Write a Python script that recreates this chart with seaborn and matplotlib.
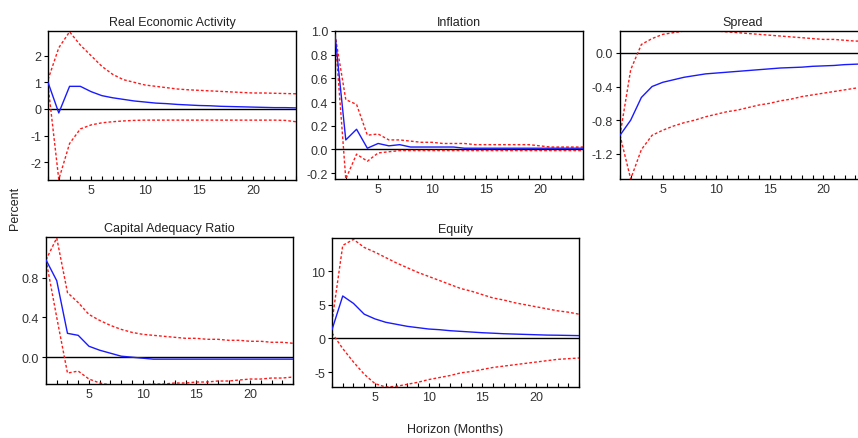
import numpy as np
import pandas as pd
import matplotlib
matplotlib.use("Agg")
import matplotlib.pyplot as plt
import seaborn as sns
from matplotlib.ticker import MultipleLocator, FixedLocator

horizon = list(range(1, 25))

rea_mid = [1.0, -0.15, 0.85, 0.85, 0.65, 0.5, 0.42, 0.36, 0.3, 0.26, 0.22, 0.2,
           0.17, 0.15, 0.13, 0.12, 0.1, 0.09, 0.08, 0.07, 0.06, 0.05, 0.05, 0.04]
rea_hi = [1.1, 2.3, 2.9, 2.4, 2.0, 1.6, 1.3, 1.1, 1.0, 0.9, 0.85, 0.8,
          0.75, 0.72, 0.7, 0.68, 0.66, 0.64, 0.62, 0.6, 0.6, 0.59, 0.58, 0.57]
rea_lo = [0.9, -2.65, -1.3, -0.75, -0.6, -0.52, -0.48, -0.45, -0.43, -0.42, -0.42, -0.42,
          -0.42, -0.42, -0.42, -0.42, -0.42, -0.42, -0.42, -0.42, -0.42, -0.42, -0.43, -0.48]

inf_mid = [0.97, 0.08, 0.17, 0.01, 0.05, 0.03, 0.04, 0.02, 0.02, 0.02, 0.02, 0.02,
           0.01, 0.01, 0.01, 0.01, 0.01, 0.01, 0.01, 0.01, 0.01, 0.01, 0.01, 0.01]
inf_hi = [0.97, 0.42, 0.38, 0.12, 0.13, 0.08, 0.08, 0.07, 0.06, 0.06, 0.05, 0.05,
          0.05, 0.04, 0.04, 0.04, 0.04, 0.04, 0.04, 0.03, 0.02, 0.02, 0.02, 0.02]
inf_lo = [0.97, -0.25, -0.04, -0.1, -0.03, -0.02, -0.01, -0.01, -0.01, -0.01, -0.01, -0.01,
          -0.01, -0.01, -0.01, -0.01, -0.01, -0.01, -0.01, -0.01, -0.01, -0.01, -0.01, -0.01]

spr_mid = [-0.98, -0.8, -0.53, -0.4, -0.35, -0.32, -0.29, -0.27, -0.25, -0.24, -0.23, -0.22,
           -0.21, -0.2, -0.19, -0.18, -0.175, -0.17, -0.16, -0.155, -0.15, -0.14, -0.135, -0.13]
spr_hi = [-0.98, -0.2, 0.1, 0.17, 0.22, 0.24, 0.26, 0.26, 0.26, 0.26, 0.25, 0.24,
          0.23, 0.22, 0.21, 0.2, 0.19, 0.18, 0.17, 0.16, 0.16, 0.15, 0.14, 0.14]
spr_lo = [-0.98, -1.5, -1.15, -0.98, -0.92, -0.87, -0.83, -0.8, -0.76, -0.73, -0.7, -0.68,
          -0.65, -0.62, -0.6, -0.57, -0.55, -0.52, -0.5, -0.48, -0.46, -0.44, -0.42, -0.4]

car_mid = [0.98, 0.77, 0.24, 0.22, 0.11, 0.07, 0.04, 0.01, 0.0, -0.01, -0.02, -0.02,
           -0.02, -0.02, -0.02, -0.02, -0.02, -0.02, -0.02, -0.02, -0.02, -0.02, -0.02, -0.02]
car_hi = [0.98, 1.2, 0.65, 0.55, 0.43, 0.37, 0.32, 0.28, 0.25, 0.23, 0.22, 0.21,
          0.2, 0.19, 0.19, 0.18, 0.18, 0.17, 0.17, 0.16, 0.16, 0.15, 0.15, 0.14]
car_lo = [0.98, 0.4, -0.16, -0.14, -0.22, -0.26, -0.28, -0.28, -0.28, -0.28, -0.27, -0.27,
          -0.26, -0.26, -0.25, -0.25, -0.24, -0.24, -0.23, -0.22, -0.22, -0.21, -0.21, -0.2]

eq_mid = [1.3, 6.3, 5.2, 3.6, 2.9, 2.4, 2.1, 1.8, 1.6, 1.4, 1.3, 1.15,
          1.05, 0.95, 0.85, 0.78, 0.7, 0.65, 0.6, 0.55, 0.5, 0.48, 0.45, 0.42]
eq_hi = [2.5, 13.8, 14.7, 13.5, 12.8, 12.0, 11.2, 10.5, 9.8, 9.2, 8.6, 8.0,
         7.4, 7.0, 6.5, 6.0, 5.7, 5.3, 5.0, 4.7, 4.4, 4.1, 3.9, 3.6]
eq_lo = [0.8, -1.5, -3.5, -5.3, -6.7, -7.2, -7.1, -6.8, -6.5, -6.1, -5.8, -5.5,
         -5.1, -4.9, -4.6, -4.3, -4.1, -3.9, -3.7, -3.5, -3.3, -3.1, -3.0, -2.9]

titles = ["Real Economic Activity", "Inflation", "Spread", "Capital Adequacy Ratio", "Equity"]

sns.set_theme(style="white")
plt.rcParams['font.family'] = ['Liberation Sans', 'DejaVu Sans']
plt.rcParams['axes.unicode_minus'] = False

W, H = 858, 439
fig = plt.figure(figsize=(W / 100, H / 100), dpi=100)
fig.patch.set_facecolor("white")

# pixel boxes: left, right, top, bottom
boxes = [(48, 296, 32, 181), (335, 583, 32, 180), (620, 866, 32, 180),
         (46, 293, 238, 385), (332, 579, 239, 388)]
ylims = [(-2.67, 2.93), (-0.25, 1.0), (-1.5, 0.26), (-0.27, 1.21), (-7.2, 14.9)]
yticks = [[-2, -1, 0, 1, 2], [-0.2, 0.0, 0.2, 0.4, 0.6, 0.8, 1.0],
          [-1.2, -0.8, -0.4, 0.0], [0.0, 0.4, 0.8], [-5, 0, 5, 10]]
yfmt = ["{:.0f}", "{:.1f}", "{:.1f}", "{:.1f}", "{:.0f}"]
series = [(rea_mid, rea_hi, rea_lo), (inf_mid, inf_hi, inf_lo), (spr_mid, spr_hi, spr_lo),
          (car_mid, car_hi, car_lo), (eq_mid, eq_hi, eq_lo)]

for i, (l, r, t, b) in enumerate(boxes):
    ax = fig.add_axes([l / W, 1 - b / H, (r - l) / W, (b - t) / H])
    mid, hi, lo = series[i]
    ax.axhline(0, color="black", lw=1.0, zorder=1)
    sns.lineplot(x=horizon, y=hi, ax=ax, color="#ff1a1a", lw=1.0,
                 linestyle=(0, (2.0, 1.5)), zorder=2)
    sns.lineplot(x=horizon, y=lo, ax=ax, color="#ff1a1a", lw=1.0,
                 linestyle=(0, (2.0, 1.5)), zorder=2)
    sns.lineplot(x=horizon, y=mid, ax=ax, color="#1a1aff", lw=1.0, zorder=3)
    ax.set_xlim(1, 24)
    ax.set_ylim(*ylims[i])
    ax.xaxis.set_major_locator(FixedLocator([5, 10, 15, 20]))
    ax.xaxis.set_minor_locator(MultipleLocator(1))
    ax.set_yticks(yticks[i])
    ax.set_yticklabels([yfmt[i].format(v) for v in yticks[i]])
    ax.tick_params(axis="x", which="both", direction="in", length=3, width=0.8,
                   color="black", labelsize=9, labelcolor="#333333", pad=3)
    ax.tick_params(axis="y", which="major", direction="out", length=3, width=0.8,
                   color="black", labelsize=9, labelcolor="#333333", pad=2)
    ax.tick_params(bottom=True, left=True, which="both")
    ax.tick_params(axis="y", which="minor", left=False)
    for s in ax.spines.values():
        s.set_visible(True)
        s.set_color("black")
        s.set_linewidth(1.0)
    ax.set_title(titles[i], fontsize=9, color="#222222", pad=4)
    ax.set_xlabel("")
    ax.set_ylabel("")

fig.text(15 / W, 1 - 208 / H, "Percent", rotation=90, ha="center", va="center",
         fontsize=9, color="#222222")
fig.text(455 / W, 1 - 430 / H, "Horizon (Months)", ha="center", va="center",
         fontsize=9, color="#222222")

fig.savefig("out.png", dpi=100)
